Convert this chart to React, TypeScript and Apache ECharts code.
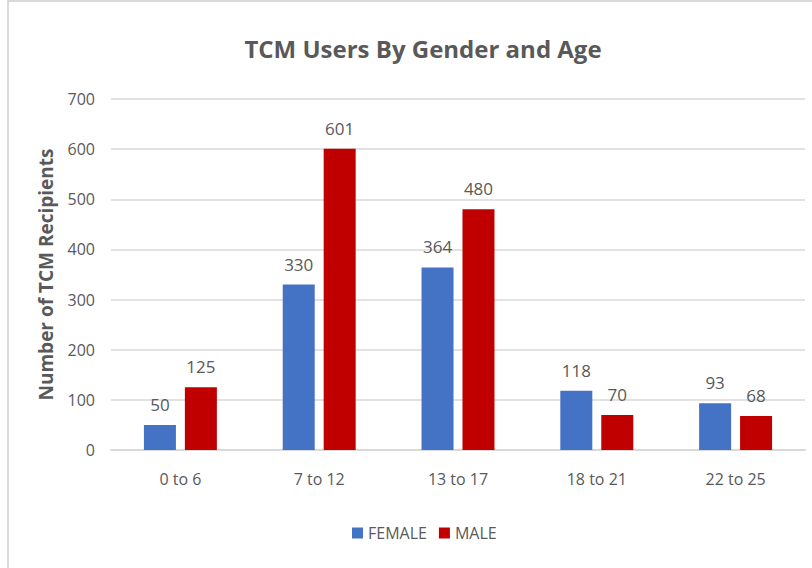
import React, { useEffect, useRef } from "react";
import * as echarts from "echarts";

const categories = ["0 to 6", "7 to 12", "13 to 17", "18 to 21", "22 to 25"];
const female = [50, 330, 364, 118, 93];
const male = [125, 601, 480, 70, 68];

const FONT = "'Open Sans', 'Noto Sans', sans-serif";
const GRAY = "#595959";

export default function App() {
  const ref = useRef<HTMLDivElement>(null);
  useEffect(() => {
    if (!ref.current) return;
    const chart = echarts.init(ref.current, null, { renderer: "svg" });
    chart.setOption({
      animation: false,
      backgroundColor: "#ffffff",
      title: {
        text: "TCM Users By Gender and Age",
        left: 418,
        textAlign: "center",
        top: 31,
        textStyle: { fontFamily: FONT, fontSize: 24, fontWeight: "bold", color: GRAY },
      },
      graphic: [
        {
          type: "rect",
          shape: { x: 8, y: 1, width: 820, height: 580 },
          style: { fill: "none", stroke: "#D9D9D9", lineWidth: 2 },
          silent: true,
        },
      ],
      legend: {
        data: ["FEMALE", "MALE"],
        bottom: 22,
        left: 347,
        itemWidth: 11,
        itemHeight: 11,
        itemGap: 12,
        icon: "rect",
        textStyle: { fontFamily: FONT, fontSize: 16, color: GRAY },
      },
      grid: { left: 111, right: 7, top: 99, bottom: 118, containLabel: false },
      xAxis: {
        type: "category",
        data: categories,
        axisLine: { lineStyle: { color: "#D9D9D9", width: 2 } },
        axisTick: { show: false },
        axisLabel: { fontFamily: FONT, fontSize: 16, color: GRAY, margin: 21 },
      },
      yAxis: {
        type: "value",
        min: 0,
        max: 700,
        interval: 100,
        name: "Number of TCM Recipients",
        nameLocation: "middle",
        nameGap: 56,
        nameTextStyle: { fontFamily: FONT, fontSize: 19, fontWeight: "bold", color: GRAY },
        axisLine: { show: false },
        axisTick: { show: false },
        axisLabel: { fontFamily: FONT, fontSize: 16, color: GRAY, margin: 16 },
        splitLine: { lineStyle: { color: "#D9D9D9", width: 1.5 } },
      },
      series: [
        {
          name: "FEMALE",
          type: "bar",
          data: female,
          itemStyle: { color: "#4472C4" },
          barWidth: 32,
          barGap: "28%",
          label: { show: true, position: "top", distance: 12, fontFamily: FONT, fontSize: 17, color: GRAY },
        },
        {
          name: "MALE",
          type: "bar",
          data: male,
          itemStyle: { color: "#C00000" },
          barWidth: 32,
          barGap: "28%",
          label: { show: true, position: "top", distance: 12, fontFamily: FONT, fontSize: 17, color: GRAY },
        },
      ],
    });
    return () => chart.dispose();
  }, []);
  return (
    <div
      ref={ref}
      style={{ position: "absolute", left: 0, top: 0, width: 812, height: 568 }}
    />
  );
}
